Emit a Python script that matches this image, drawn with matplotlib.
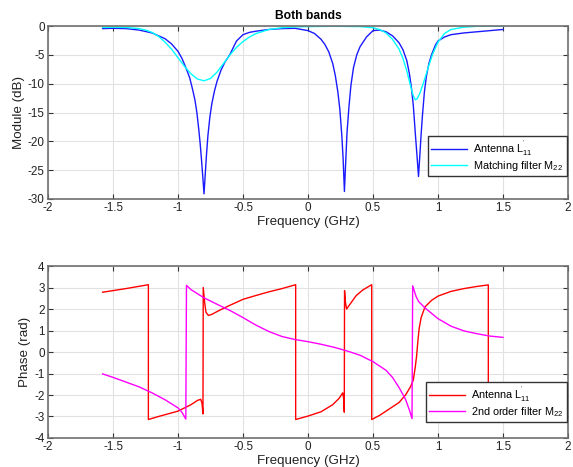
import matplotlib
matplotlib.use("Agg")
import matplotlib.pyplot as plt

plt.rcParams['font.family'] = ['Liberation Sans', 'DejaVu Sans']
plt.rcParams['axes.unicode_minus'] = False
plt.rcParams['mathtext.fontset'] = 'custom'
plt.rcParams['mathtext.rm'] = 'Liberation Sans'
plt.rcParams['mathtext.it'] = 'Liberation Sans'

freq_ticks = [-2, -1.5, -1, -0.5, 0, 0.5, 1, 1.5, 2]
freq_labels = ['-2', '-1.5', '-1', '-0.5', '0', '0.5', '1', '1.5', '2']

# module of the antenna reflection (dB)
f_ant_mod = [-1.58, -1.5, -1.4, -1.3, -1.2, -1.1, -1.05, -1.0, -0.97, -0.94, -0.91, -0.89,
             -0.87, -0.855, -0.84, -0.83, -0.82, -0.81, -0.80, -0.79, -0.78, -0.77, -0.755,
             -0.74, -0.72, -0.70, -0.67, -0.64, -0.60, -0.55, -0.5, -0.45, -0.4, -0.3, -0.2,
             -0.1, 0.0, 0.05, 0.1, 0.13, 0.16, 0.19, 0.21, 0.23, 0.245, 0.26, 0.27, 0.28,
             0.29, 0.30, 0.315, 0.33, 0.35, 0.375, 0.4, 0.45, 0.5, 0.55, 0.6, 0.65, 0.7,
             0.73, 0.76, 0.78, 0.795, 0.81, 0.825, 0.84, 0.85, 0.86, 0.87, 0.88, 0.895,
             0.91, 0.93, 0.95, 0.98, 1.0, 1.05, 1.1, 1.2, 1.3, 1.4, 1.5]
ant_mod = [-0.45, -0.4, -0.45, -0.7, -1.2, -2.2, -3.1, -4.4, -5.6, -7.2, -9.0, -10.8,
           -12.8, -15.0, -18.0, -20.3, -23.0, -26.0, -29.1, -25.5, -22.0, -19.0, -15.8,
           -13.5, -11.3, -9.6, -7.7, -6.3, -4.9, -2.6, -1.5, -1.1, -0.9, -0.6, -0.45,
           -0.4, -0.8, -1.3, -2.3, -3.2, -4.5, -6.5, -8.6, -11.5, -14.5, -19.0, -23.0, -28.7,
           -23.5, -18.5, -14.0, -10.3, -7.2, -5.0, -3.6, -1.9, -0.8, -0.7, -1.0, -1.7, -2.9,
           -4.1, -6.0, -8.3, -10.6, -13.8, -18.5, -23.0, -26.1, -22.5, -18.8, -15.6, -11.5,
           -8.8, -6.5, -5.0, -3.3, -2.6, -1.9, -1.5, -1.2, -1.0, -0.8, -0.6]

# module of the matching filter (dB)
f_filt_mod = [-1.58, -1.5, -1.4, -1.3, -1.25, -1.2, -1.15, -1.1, -1.05, -1.0, -0.95, -0.9,
              -0.85, -0.8, -0.75, -0.7, -0.65, -0.6, -0.55, -0.5, -0.45, -0.4, -0.3, -0.2,
              -0.1, 0.0, 0.2, 0.4, 0.5, 0.55, 0.6, 0.65, 0.7, 0.73, 0.76, 0.79, 0.81, 0.825,
              0.84, 0.86, 0.88, 0.9, 0.93, 0.96, 1.0, 1.05, 1.1, 1.2, 1.3, 1.5]
filt_mod = [-0.25, -0.2, -0.25, -0.45, -0.7, -1.1, -1.8, -2.8, -4.0, -5.5, -7.0, -8.3,
            -9.2, -9.5, -9.1, -8.0, -6.5, -5.0, -3.7, -2.7, -1.9, -1.3, -0.6, -0.3,
            -0.15, -0.1, -0.05, -0.1, -0.3, -0.6, -1.2, -2.3, -4.0, -5.6, -7.8, -10.5, -12.1, -12.8,
            -12.6, -11.7, -10.4, -9.0, -6.8, -4.8, -2.8, -1.3, -0.6, -0.2, -0.05, 0.0]

# phase of the antenna reflection (rad)
f_ant_ph = [-1.58, -1.4, -1.228, -1.228, -1.15, -1.0, -0.9, -0.85, -0.825, -0.815, -0.808,
            -0.806, -0.795, -0.785, -0.767, -0.74, -0.7, -0.62, -0.5, -0.4, -0.3, -0.2,
            -0.095, -0.095, 0.0, 0.1, 0.19, 0.24, 0.267, 0.275, 0.279, 0.281, 0.288, 0.297,
            0.32, 0.37, 0.42, 0.49, 0.49, 0.55, 0.6, 0.7, 0.75, 0.79, 0.81, 0.825, 0.835,
            0.845, 0.855, 0.87, 0.9, 0.95, 1.0, 1.1, 1.2, 1.3, 1.387, 1.387, 1.45, 1.5]
ant_ph = [2.78, 2.95, 3.13, -3.14, -3.0, -2.75, -2.45, -2.25, -2.2, -2.4, -2.88,
          3.0, 2.3, 1.85, 1.7, 1.75, 1.88, 2.12, 2.45, 2.63, 2.8, 2.95,
          3.13, -3.14, -2.98, -2.78, -2.45, -2.15, -1.9, -2.2, -2.8, 2.85, 2.3, 2.0,
          2.2, 2.62, 2.88, 3.13, -3.14, -2.95, -2.75, -2.35, -2.0, -1.6, -1.3, -0.7, -0.2,
          0.5, 1.1, 1.6, 2.1, 2.4, 2.6, 2.82, 2.95, 3.05, 3.12, -3.14, -3.1, -3.07]

# phase of the 2nd order filter (rad)
f_filt_ph = [-1.58, -1.5, -1.4, -1.3, -1.2, -1.1, -1.0, -0.97, -0.94, -0.935, -0.9, -0.8,
             -0.7, -0.6, -0.5, -0.4, -0.3, -0.2, -0.1, 0.0, 0.1, 0.2, 0.3, 0.4, 0.5, 0.6,
             0.65, 0.7, 0.75, 0.78, 0.8, 0.805, 0.83, 0.85, 0.9, 1.0, 1.1, 1.2, 1.3, 1.4, 1.5]
filt_ph = [-1.02, -1.18, -1.4, -1.62, -1.9, -2.22, -2.6, -2.8, -3.12, 3.1, 2.9, 2.52,
           2.22, 1.93, 1.6, 1.25, 0.95, 0.72, 0.58, 0.48, 0.36, 0.22, 0.05, -0.15, -0.45, -0.85,
           -1.18, -1.65, -2.2, -2.7, -3.1, 3.08, 2.6, 2.35, 2.05, 1.55, 1.2, 0.98, 0.85, 0.74, 0.68]

fig = plt.figure(figsize=(5.73, 4.67), dpi=100)
ax1 = fig.add_axes([0.0838, 0.5739, 0.9075, 0.3704])
ax2 = fig.add_axes([0.0838, 0.0621, 0.9075, 0.3683])


def style(ax):
    ax.set_xlim(-2, 2)
    ax.set_xticks(freq_ticks)
    ax.set_xticklabels(freq_labels)
    ax.grid(True, color='#e2e2e2', linewidth=0.8)
    ax.set_axisbelow(True)
    ax.tick_params(direction='in', length=3.5, width=0.8, top=True, right=True, pad=2.5,
                   labelsize=8.4, colors='#333333', labelcolor='#222222')
    for s in ax.spines.values():
        s.set_color('#707070')
        s.set_linewidth(1.2)
    ax.set_xlabel('Frequency (GHz)', fontsize=9.6, labelpad=1, color='#222222')


def add_legend(ax, y0):
    leg = ax.legend(loc='lower right', bbox_to_anchor=(0.9975, y0), borderaxespad=0,
                    fontsize=7.8, fancybox=False, framealpha=1, edgecolor='#333333',
                    handlelength=3.3, handletextpad=0.6, labelspacing=0.1, borderpad=0.3)
    leg.get_frame().set_linewidth(1.0)


ax1.plot(f_ant_mod, ant_mod, color='#1a1aff', lw=1.0, label=r"Antenna L$^{'}_{11}$")
ax1.plot(f_filt_mod, filt_mod, color='#00ffff', lw=1.0, label=r"Matching filter M$_{22}$")
style(ax1)
ax1.set_ylim(-30, 0)
ax1.set_yticks([-30, -25, -20, -15, -10, -5, 0])
ax1.set_ylabel('Module (dB)', fontsize=9.6, labelpad=2, color='#222222')
ax1.set_title('Both bands', fontsize=8.7, fontweight='bold', pad=5)
add_legend(ax1, 0.133)

ax2.plot(f_ant_ph, ant_ph, color='#ff0000', lw=1.0, label=r"Antenna L$^{'}_{11}$")
ax2.plot(f_filt_ph, filt_ph, color='#ff00ff', lw=1.0, label=r"2nd order filter M$_{22}$")
style(ax2)
ax2.set_ylim(-4, 4)
ax2.set_yticks(range(-4, 5))
ax2.set_ylabel('Phase (rad)', fontsize=9.6, labelpad=2, color='#222222')
add_legend(ax2, 0.093)

fig.savefig('out.png', dpi=100)
